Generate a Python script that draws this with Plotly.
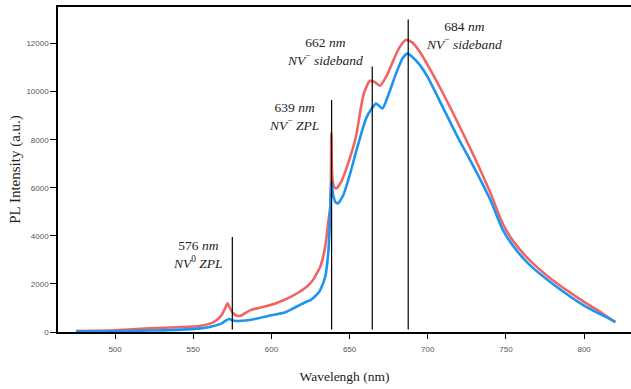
import plotly.graph_objects as go

# ---- data ----
red_wl = [475, 500, 522, 540, 554, 562, 565, 568, 570.5, 572, 573.5, 575.5, 578, 580, 583, 587,
          592, 597, 603, 608, 613, 618, 623, 627, 629, 631.2, 634.4, 636.5, 637.8, 638.3, 638.9,
          640, 641.5, 645, 650, 654, 659, 663, 666, 669.5, 674, 678, 682, 686, 690, 695, 700,
          710, 720, 730, 740, 748, 755, 765, 780, 800, 810, 820]
red_int = [40, 70, 150, 200, 250, 380, 500, 700, 1000, 1190, 1000, 780, 680, 670, 780, 920,
           1000, 1080, 1200, 1330, 1480, 1675, 1900, 2200, 2440, 2710, 3550, 4650, 5300, 8280, 6500,
           6050, 5970, 6300, 7200, 8100, 9900, 10450, 10400, 10250, 10700, 11300, 11850, 12150, 12050, 11650, 11100,
           9900, 8600, 7250, 5800, 4500, 3750, 3000, 2150, 1250, 850, 400]

blue_wl = [475, 500, 522, 540, 555, 563, 568, 571, 573, 575, 577, 581, 586, 595, 600, 608,
           613, 618, 622, 625, 629, 631.2, 634.4, 636.5, 637.5, 638.3, 639.5, 641, 642.5, 646, 650,
           655, 661, 667, 671, 675, 680, 684, 687, 690, 695, 700, 710, 720, 730, 740, 748,
           755, 765, 780, 800, 810, 820]
blue_int = [20, 30, 60, 90, 150, 250, 350, 480, 540, 490, 457, 465, 500, 620, 700, 800,
            950, 1120, 1250, 1330, 1550, 1745, 2300, 3400, 4800, 6250, 5700, 5400, 5350, 5700, 6500,
            7700, 8950, 9500, 9300, 9900, 10800, 11400, 11580, 11450, 11100, 10600, 9300, 8000, 6800, 5500, 4250,
            3550, 2800, 2000, 1100, 750, 420]

marker_wl = [575, 638.5, 664.5, 687.5]
marker_top = [3950, 9650, 11050, 13000]
marker_bottom = [100, 100, 100, 100]
marker_labels = [
    "576 <i>nm</i><br><i>NV</i><sup>0</sup> <i>ZPL</i>",
    "639 <i>nm</i><br><i>NV</i><sup>−</sup> <i>ZPL</i>",
    "662 <i>nm</i><br><i>NV</i><sup>−</sup> <i>sideband</i>",
    "684 <i>nm</i><br><i>NV</i><sup>−</sup> <i>sideband</i>",
]
label_x = [553, 614.5, 634.4, 723.3]
label_y = [3220, 8950, 11680, 12344]

x_ticks = [500, 550, 600, 650, 700, 750, 800]
y_ticks = [0, 2000, 4000, 6000, 8000, 10000, 12000]
y_tick_text = ["0", "2000", "4000", "6000", "8000", "10000", "12000"]

# ---- figure ----
fig = go.Figure()
fig.add_trace(go.Scatter(x=red_wl, y=red_int, mode="lines",
                         line=dict(color="#F06464", width=2.6, shape="spline", smoothing=0.6),
                         showlegend=False))
fig.add_trace(go.Scatter(x=blue_wl, y=blue_int, mode="lines",
                         line=dict(color="#1C94F0", width=2.6, shape="spline", smoothing=0.6),
                         showlegend=False))

vx, vy = [], []
for w, b, t in zip(marker_wl, marker_bottom, marker_top):
    vx += [w, w, None]
    vy += [b, t, None]
fig.add_trace(go.Scatter(x=vx, y=vy, mode="lines",
                         line=dict(color="black", width=1.2), showlegend=False))

for txt, lx, ly in zip(marker_labels, label_x, label_y):
    fig.add_annotation(x=lx, y=ly, xref="x", yref="y", text=txt, showarrow=False,
                       xanchor="center", yanchor="middle", align="center",
                       font=dict(family="Liberation Serif", size=13.5, color="#222"))

fig.update_layout(
    width=631, height=389,
    margin=dict(l=58, r=0, t=7, b=57),
    paper_bgcolor="white", plot_bgcolor="white",
    xaxis=dict(range=[463.5, 830], tickvals=x_ticks, ticks="outside", ticklen=5,
               tickcolor="black", showline=True, linecolor="black", linewidth=1.5,
               mirror=True, showgrid=False, zeroline=False,
               tickfont=dict(family="Liberation Sans", size=8, color="#555"),
               ticklabelstandoff=4,
               title=dict(text="Wavelengh (nm)", standoff=18,
                          font=dict(family="Liberation Serif", size=13.5, color="#222"))),
    yaxis=dict(range=[0, 13520], tickvals=y_ticks, ticktext=y_tick_text, ticks="outside", ticklen=6,
               tickcolor="black", showline=True, linecolor="black", linewidth=1.5,
               showgrid=False, zeroline=False,
               tickfont=dict(family="Liberation Sans", size=8, color="#555"),
               title=dict(text="PL Intensity (a.u.)", standoff=2,
                          font=dict(family="Liberation Serif", size=15, color="#222"))),
)

fig.write_html("out.html", config={"displayModeBar": False},
               post_script="document.body.style.margin='0px';")
